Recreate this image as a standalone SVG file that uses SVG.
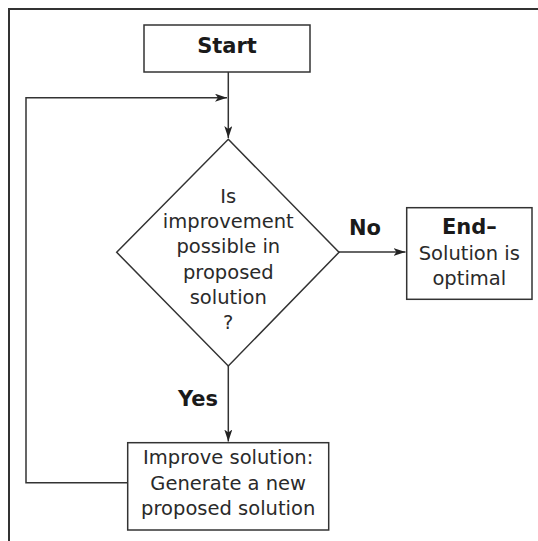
<svg xmlns="http://www.w3.org/2000/svg" width="538" height="541" viewBox="0 0 538 541">
<defs>
<style>
.shape{fill:#fff;stroke:#333;stroke-width:1.5}
.conn{fill:none;stroke:#333;stroke-width:1.5}
.t{font-family:"DejaVu Sans",sans-serif;font-size:19.5px;fill:#2a2a2a;text-anchor:middle}
.b{font-family:"DejaVu Sans",sans-serif;font-weight:bold;font-size:21px;fill:#1a1a1a;text-anchor:middle}
</style>
<marker id="arr" viewBox="0 0 12 8" markerWidth="12" markerHeight="8" refX="12" refY="4" orient="auto" markerUnits="userSpaceOnUse">
<path d="M0,0 L12,4 L0,8 L3,4 z" fill="#222"/>
</marker>
</defs>
<rect width="538" height="541" fill="#fff"/>
<path d="M9,541 L9,9 L538,9" fill="none" stroke="#333" stroke-width="2"/>
<g id="connectors">
<path class="conn" d="M228.3,72 L228.3,138" marker-end="url(#arr)"/>
<path class="conn" d="M128,482.7 L26,482.7 L26,97.7 L227,97.7" marker-end="url(#arr)"/>
<path class="conn" d="M339,252 L405.5,252" marker-end="url(#arr)"/>
<path class="conn" d="M228.3,366 L228.3,441.5" marker-end="url(#arr)"/>
<text class="b" x="365" y="235">No</text>
<text class="b" x="198" y="405.5">Yes</text>
</g>
<g id="start">
<rect class="shape" x="144" y="25" width="166" height="47"/>
<text class="b" x="227" y="53">Start</text>
</g>
<g id="decision">
<polygon class="shape" points="228.3,139.3 339,252.3 228.3,366 116.7,252.3"/>
<text class="t" x="228.3" y="202.7">Is</text>
<text class="t" x="228.3" y="228">improvement</text>
<text class="t" x="228.3" y="253.3">possible in</text>
<text class="t" x="228.3" y="278.6">proposed</text>
<text class="t" x="228.3" y="304">solution</text>
<text class="t" x="228.3" y="329.3">?</text>
</g>
<g id="end">
<rect class="shape" x="406.7" y="207.7" width="125.3" height="91.6"/>
<text class="b" x="469.3" y="234">End–</text>
<text class="t" x="469.3" y="260">Solution is</text>
<text class="t" x="469.3" y="285.3">optimal</text>
</g>
<g id="improve">
<rect class="shape" x="127.7" y="442.7" width="201" height="87.3"/>
<text class="t" x="228.2" y="464.3">Improve solution:</text>
<text class="t" x="228.2" y="490">Generate a new</text>
<text class="t" x="228.2" y="515.3">proposed solution</text>
</g>
</svg>
